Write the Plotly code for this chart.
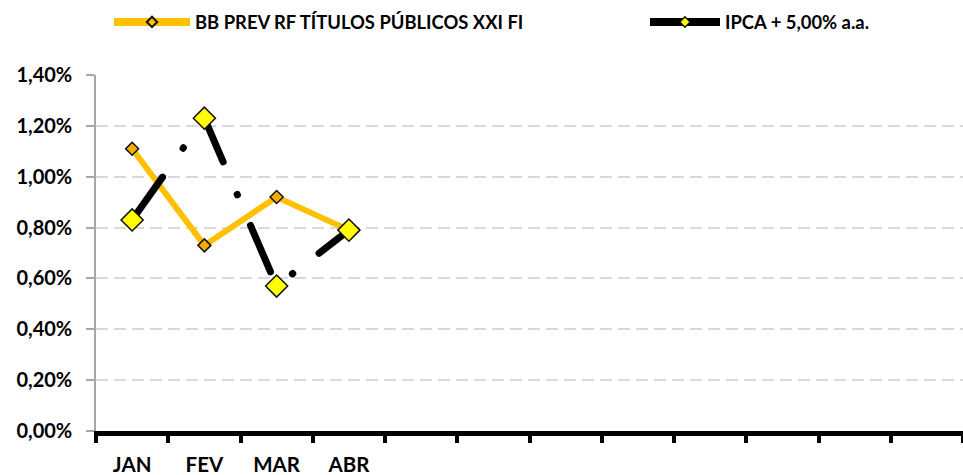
import plotly.graph_objects as go

# ---- data ----
months = ["JAN", "FEV", "MAR", "ABR"]
slot_labels = ["JAN", "FEV", "MAR", "ABR", "", "", "", "", "", "", "", ""]
bb_prev = [1.11, 0.73, 0.92, 0.79]
ipca = [0.83, 1.23, 0.57, 0.79]
name_bb = "BB PREV RF TÍTULOS PÚBLICOS XXI FI"
name_ipca = "IPCA + 5,00% a.a."
y_ticks = [0.0, 0.2, 0.4, 0.6, 0.8, 1.0, 1.2, 1.4]
y_ticktext = [f"{v:.2f}".replace(".", ",") + "%" for v in y_ticks]

FONT = "Lato, 'Open Sans', sans-serif"
ORANGE = "#FFC000"
ORANGE_MK = "#F5AD00"
YELLOW = "#FFFF00"

x_idx = list(range(len(months)))
n_slots = len(slot_labels)

fig = go.Figure()

fig.add_trace(go.Scatter(
    x=x_idx, y=bb_prev, mode="lines+markers", showlegend=False,
    line=dict(color=ORANGE, width=6),
    marker=dict(symbol="diamond", size=10, color=ORANGE_MK,
                line=dict(color="#111111", width=1.5)),
))
fig.add_trace(go.Scatter(
    x=x_idx, y=ipca, mode="lines+markers", showlegend=False,
    line=dict(color="#000000", width=7, dash="50.5px,35.5px,0.5px,33.2px"),
    marker=dict(symbol="diamond", size=17, color=YELLOW,
                line=dict(color="#111111", width=1.5)),
))
# legend-only entries (smaller symbols, as in the reference legend)
fig.add_trace(go.Scatter(
    x=[None], y=[None], mode="lines+markers", name=name_bb, legend="legend",
    line=dict(color=ORANGE, width=8),
    marker=dict(symbol="diamond", size=8, color=ORANGE,
                line=dict(color="#111111", width=2)),
))
fig.add_trace(go.Scatter(
    x=[None], y=[None], mode="lines+markers", name=name_ipca, legend="legend2",
    line=dict(color="#000000", width=8),
    marker=dict(symbol="diamond", size=8, color=YELLOW,
                line=dict(color="#111111", width=1.5)),
))

fig.update_layout(
    width=963, height=475, autosize=False,
    margin=dict(l=96, r=0, t=75, b=44),
    paper_bgcolor="white", plot_bgcolor="white",
    font=dict(family=FONT, size=20, color="#000000"),
    legend=dict(orientation="h", x=(109 - 96) / 867, xanchor="left",
                y=1 + (75 - 22) / 356, yanchor="middle",
                itemwidth=76, font=dict(family=FONT, size=18.4, weight="bold"),
                bgcolor="rgba(0,0,0,0)"),
    legend2=dict(orientation="h", x=(645 - 96) / 867, xanchor="left",
                 y=1 + (75 - 22) / 356, yanchor="middle",
                 itemwidth=70, font=dict(family=FONT, size=18.4, weight="bold"),
                 bgcolor="rgba(0,0,0,0)"),
    xaxis=dict(
        range=[-0.5, n_slots - 0.5],
        tickmode="array", tickvals=list(range(n_slots)), ticktext=slot_labels,
        ticks="", showgrid=False, zeroline=False,
        showline=True, linecolor="#000000", linewidth=5,
        tickfont=dict(family=FONT, size=20.5, weight="bold"),
        ticklabelstandoff=11,
        minor=dict(tickmode="array",
                   tickvals=[i - 0.5 for i in range(n_slots + 1)],
                   ticks="outside", ticklen=7, tickwidth=4, tickcolor="#000000",
                   showgrid=False),
    ),
    yaxis=dict(
        range=[0, 1.4], tickmode="array", tickvals=y_ticks, ticktext=y_ticktext,
        ticks="outside", ticklen=8, tickwidth=1.5, tickcolor="#A6A6A6",
        showline=True, linecolor="#A6A6A6", linewidth=1.5,
        showgrid=True, gridcolor="#D9D9D9", gridwidth=1.5, griddash="12px,6px",
        zeroline=False,
        tickfont=dict(family=FONT, size=20, weight="bold"),
        ticklabelstandoff=10,
    ),
)

post = """
document.body.style.margin = '0';
var traces = document.querySelectorAll('.scatterlayer .trace');
if (traces.length > 1) {
  traces[1].querySelectorAll('.js-line').forEach(function (p) {
    p.style.strokeLinecap = 'round';
    p.style.strokeLinejoin = 'round';
    p.style.strokeDashoffset = '-2';
  });
}
"""

fig.write_html("out.html", post_script=post, config={"displayModeBar": False})
